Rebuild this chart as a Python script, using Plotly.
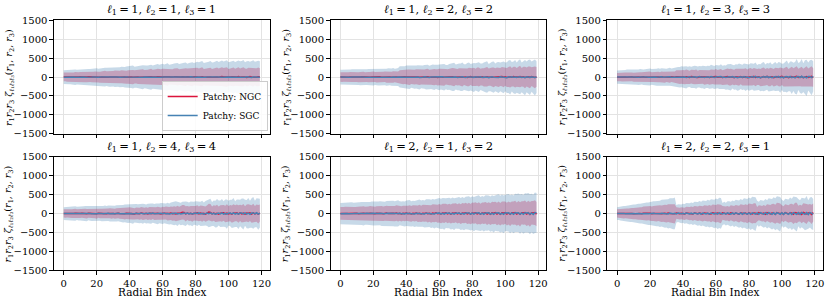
import plotly.graph_objects as go

# ---------------- data ----------------
bins = list(range(120))
xticks = [0, 20, 40, 60, 80, 100, 120]
yticks = [-1500, -1000, -500, 0, 500, 1000, 1500]
titles_l = [(1, 1, 1), (1, 2, 2), (1, 3, 3), (1, 4, 4), (2, 1, 2), (2, 2, 1)]

# SGC 1-sigma half-widths per panel
sgc_sig_1 = [180,182,185,188,192,196,200,205, 195,198,202,206,210,215,220, 210,214,218,223,228,234, 225,230,236,242,248, 240,246,252,258, 250,257,264, 258,266, 270,
             265,270,276,282,289,296,303, 280,287,294,302,310,318, 295,303,312,321,330, 310,320,330,340, 325,336,347, 340,352, 360,
             330,338,347,356,366,376, 345,355,366,377,388, 360,372,384,396, 375,388,400, 390,404, 415,
             370,382,395,408,420, 385,398,412,425, 400,415,430, 410,425, 440,
             390,405,420,435, 400,418,435, 415,432, 445,
             395,412,430, 405,425, 440, 400,420, 430, 420]
ngc_sig_1 = [115,116,118,120,122,125,127,130, 124,126,128,131,134,137,140, 133,136,139,142,145,149, 142,146,150,154,158, 150,155,160,164, 157,162,167, 163,168, 172,
             165,168,172,176,180,184,189, 175,179,184,189,194,199, 184,189,195,201,207, 193,199,206,213, 202,209,216, 211,219, 225,
             200,205,211,217,223,229, 208,214,221,228,235, 216,224,232,240, 224,233,242, 232,242, 250,
             215,222,230,238,246, 223,231,240,248, 230,240,250, 236,247, 258,
             220,229,238,247, 226,236,246, 233,244, 252,
             222,232,242, 229,240, 248, 225,236, 244, 235]

sgc_sig_2 = [195,197,199,201,203,205,207,209, 200,202,205,208,211,214,217, 205,208,212,216,220,224, 210,214,219,224,229, 215,220,226,232, 220,227,234, 225,233, 240,
             280,284,289,294,299,304,310, 290,295,301,307,313,320, 300,307,314,321,329, 310,318,327,336, 320,330,340, 330,342, 350,
             320,330,340,351,362,373, 330,342,354,366,378, 340,354,368,382, 350,366,382, 360,378, 395,
             350,366,382,398,414, 360,378,396,414, 370,390,410, 380,402, 420,
             380,405,430,455, 390,420,450, 400,435, 465,
             395,430,465, 410,450, 470, 400,440, 475, 420]
ngc_sig_2 = [125,126,127,128,129,130,131,132, 128,129,131,133,135,137,139, 131,133,135,137,140,143, 134,137,140,143,146, 137,141,145,149, 140,145,150, 143,149, 155,
             182,185,188,191,195,199,203, 188,191,195,199,203,208, 194,198,203,208,213, 200,205,211,217, 206,213,220, 212,220, 228,
             205,211,218,225,232,239, 212,219,227,235,243, 218,227,236,245, 224,234,244, 230,241, 252,
             222,231,240,250,260, 228,238,249,260, 234,246,258, 240,253, 266,
             238,252,266,280, 244,260,276, 250,268, 285,
             245,265,283, 252,272, 288, 248,270, 290, 260]

sgc_sig_3 = [175,177,180,183,186,190,194,198, 188,191,195,199,203,208,213, 200,204,208,213,218,224, 210,215,220,226,232, 218,224,231,238, 226,233,241, 232,241, 250,
             262,266,271,276,282,288,294, 270,275,281,287,294,301, 278,284,291,298,306, 286,294,302,311, 294,303,313, 302,313, 325,
             305,313,322,331,341,351, 315,324,334,345,356, 324,335,347,359, 333,346,360, 342,357, 372,
             330,343,357,371,385, 340,355,370,386, 350,367,384, 360,378, 400,
             350,375,400,425, 362,395,430, 375,420, 470,
             360,410,460, 380,440, 480, 370,430, 470, 400]
ngc_sig_3 = [110,111,113,115,117,119,121,123, 116,118,120,122,125,128,131, 122,124,127,130,133,137, 127,130,133,137,141, 131,135,139,143, 135,140,145, 139,145, 150,
             168,171,174,177,181,185,189, 173,176,180,184,188,193, 178,182,186,191,196, 183,188,193,199, 188,194,200, 193,200, 207,
             195,200,206,212,218,224, 201,207,213,220,227, 207,214,221,229, 213,221,229, 218,227, 236,
             210,218,226,234,243, 216,224,233,242, 222,231,241, 228,239, 250,
             225,237,249,261, 231,245,259, 238,254, 270,
             232,248,264, 240,258, 272, 235,253, 268, 245]

sgc_sig_4 = [170,172,174,177,180,183,186,190, 178,181,184,188,192,196,200, 186,189,193,197,201,206, 193,197,201,206,211, 199,204,209,214, 205,211,217, 210,217, 224,
             232,236,240,245,250,255,260, 240,244,249,254,260,266, 247,252,258,264,270, 254,260,267,274, 261,268,276, 267,276, 285,
             280,287,295,303,311,320, 288,296,305,314,323, 296,305,315,325, 303,314,325, 310,322, 335,
             310,325,340,356,372, 320,337,354,372, 330,350,370, 340,362, 385,
             330,350,372,395, 340,365,390, 350,380, 410,
             345,375,405, 355,390, 420, 350,385, 415, 380]
ngc_sig_4 = [108,109,110,112,114,116,118,120, 113,115,117,119,121,124,126, 118,120,122,125,128,131, 122,125,128,131,134, 126,129,133,136, 129,133,137, 132,137, 142,
             147,149,152,155,158,161,164, 151,154,157,160,164,168, 155,158,162,166,170, 159,163,167,172, 163,168,173, 167,173, 179,
             175,179,184,189,194,199, 180,185,190,196,202, 185,191,197,203, 190,197,204, 195,203, 211,
             193,201,209,217,225, 198,206,215,224, 203,212,222, 208,218, 230,
             205,215,226,237, 210,222,234, 215,228, 242,
             210,224,238, 216,232, 246, 213,229, 243, 225]

sgc_sig_5 = [280,282,284,286,289,292,295,298, 288,291,294,297,300,304,308, 298,301,305,309,313,317, 308,312,316,320,325, 318,322,327,332, 326,331,337, 334,340, 348,
             318,322,326,330,335,340,345, 334,338,343,348,353,358, 350,355,360,366,372, 366,372,378,384, 382,389,396, 398,406, 415,
             395,399,404,409,414,419, 410,415,420,426,432, 424,430,436,442, 438,445,452, 450,458, 466,
             450,455,460,466,472, 462,468,474,481, 474,481,488, 485,493, 500,
             480,487,494,502, 492,500,508, 502,512, 520,
             500,510,520, 512,524, 532, 510,522, 534, 525]
ngc_sig_5 = [168,169,171,172,174,176,178,180, 174,176,178,180,182,185,187, 180,182,185,187,190,193, 186,189,192,195,198, 192,195,198,202, 197,201,205, 202,206, 211,
             196,199,201,204,207,210,213, 206,209,212,215,219,222, 216,219,223,227,231, 226,230,234,238, 236,240,245, 245,250, 256,
             243,246,249,252,255,258, 252,255,258,262,266, 261,265,269,273, 270,274,278, 277,282, 287,
             276,279,283,287,291, 284,288,292,296, 291,296,301, 298,303, 308,
             295,300,305,310, 302,307,313, 308,314, 320,
             305,312,318, 312,320, 326, 312,320, 328, 322]

sgc_sig_6 = [170,176,182,188,195,202,209,216, 222,229,236,243,250,257,264, 270,277,284,291,298,305, 312,319,326,333,340, 347,354,361,368, 376,384,392, 400,408, 420,
             230,236,242,248,254,260,267, 273,280,286,293,299,306, 312,319,325,332,338, 345,351,358,364, 371,378,385, 392,400, 410,
             290,297,304,311,318,326, 333,341,348,356,363, 371,378,386,393, 401,408,416, 424,432, 445,
             320,329,338,347,356, 366,375,385,394, 404,413,423, 432,442, 460,
             345,356,367,378, 390,401,412, 424,436, 455,
             360,375,390, 405,420, 440, 380,400, 425, 410]
ngc_sig_6 = [110,114,118,122,126,130,134,138, 142,146,150,154,158,162,166, 170,174,178,182,186,190, 194,198,202,206,210, 214,218,222,226, 231,236,241, 245,250, 256,
             150,153,156,159,162,165,168, 171,174,177,180,184,187, 190,194,197,201,204, 208,211,215,219, 222,226,230, 234,238, 243,
             180,184,188,192,196,200, 204,208,212,216,220, 225,229,233,238, 242,247,251, 256,261, 267,
             192,197,202,208,213, 219,224,230,235, 241,247,253, 259,265, 272,
             205,211,218,225, 232,239,246, 253,261, 270,
             212,222,232, 242,252, 264, 220,236, 252, 240]

# mean curves per panel
ngc_mean_1 = [5,3,-2,4,6,1,-3,2,0,4, 7,3,-1,2,5,8,4,1,-2,3, 6,2,-4,1,5,9,3,-2,0,4, 7,12,5,-3,2,6,4,1,-5,3,
              8,2,-1,6,10,4,-2,1,7,3, -6,2,5,11,4,-3,0,8,3,-1, 5,9,2,-4,6,3,-2,8,12,5, -1,3,7,-3,2,10,4,-5,1,6,
              14,3,-2,5,8,-4,2,7,11,3, -6,0,9,4,-3,6,13,2,-1,5, -7,3,10,6,-2,4,12,-5,1,8, 3,-8,5,14,2,-3,6,-4,9,2]
sgc_mean_1 = [-2,1,3,-1,0,2,4,-3,1,2, -1,3,0,-2,4,1,-3,2,5,-1, 0,-4,2,3,-2,1,5,-1,-3,2, 4,-2,0,3,-5,1,2,-4,3,0,
              -2,5,1,-3,2,-1,4,0,-6,3, 1,-2,6,-3,0,2,-5,4,1,-1, 3,-4,0,5,-2,-7,2,1,4,-3, -1,6,-4,2,0,-5,3,7,-2,1,
              -6,4,0,-3,8,2,-5,1,-2,6, 3,-8,2,5,-1,-4,7,0,-6,3, 2,-5,8,-3,1,-7,4,2,-9,5, -2,6,-4,1,-8,3,5,-6,2,-3]
ngc_mean_2 = [3,-1,2,5,0,-3,4,1,-2,6, 2,-4,3,7,1,-2,5,0,-5,4, 8,2,-3,1,6,-1,3,9,-2,0, 4,-6,2,7,3,-4,1,5,-2,8,
              0,3,-5,6,2,-1,9,4,-3,1, 7,-2,5,10,-4,2,6,-1,3,-7, 4,11,-3,2,8,-5,1,6,12,-2, 3,-6,9,2,-4,7,1,-8,5,13,
              -1,4,-7,10,3,-2,6,-9,2,8, -3,11,5,-6,1,9,-4,3,14,-2, 6,-10,2,8,-5,12,1,-7,4,15, -3,7,-11,2,9,-6,13,0,-8,5]
sgc_mean_2 = [1,-2,0,3,-1,2,-3,1,4,-2, 0,2,-4,1,3,-1,-2,5,0,-3, 2,4,-1,-5,3,1,-2,6,-4,0, 3,-1,5,-3,-6,2,4,-2,1,-7,
              5,0,-3,7,-1,-5,3,2,-8,4, -2,6,-4,1,-9,3,5,-6,2,-1, -7,4,8,-3,0,-10,5,2,-6,7, 1,-8,3,-4,9,-2,-11,4,6,-5,
              2,-12,7,-3,1,8,-9,4,-6,3, -13,5,9,-2,-7,4,-10,6,1,-8, 3,-14,7,-4,10,-6,2,-12,5,8, -9,1,-15,6,3,-7,11,-4,-10,2]
ngc_mean_3 = [-3,2,4,-1,1,5,-2,3,0,6, -4,2,7,1,-3,5,8,-2,0,4, 9,-1,3,-5,6,2,-3,10,1,-4, 5,3,-6,8,0,-2,11,4,-7,2,
              6,-3,9,1,-8,12,3,-1,5,-9, 7,2,13,-4,0,6,-10,3,8,-2, 14,-5,1,9,-11,4,2,15,-6,0, 7,-12,10,3,-3,16,-7,1,8,-13,
              4,11,-2,17,-8,2,9,-14,5,12, -4,18,-9,3,10,-15,6,13,-5,1, 19,-10,4,11,-16,7,14,-6,2,20, -11,5,12,-17,8,15,-7,3,21,-12]
sgc_mean_3 = [2,0,-1,3,1,-2,4,0,-3,2, 5,-1,1,-4,3,6,-2,0,4,-5, 1,7,-3,2,-6,5,0,8,-4,1, -7,3,9,-2,0,-8,6,2,-5,10,
              -1,4,-9,3,11,-6,1,7,-10,2, 12,-3,5,-11,0,8,-7,13,2,-12, 4,9,-4,14,-8,1,-13,6,10,-5, 15,-9,3,-14,7,11,-6,16,-10,2,
              -15,8,12,-7,17,-11,4,-16,9,13, -8,18,-12,5,-17,10,14,-9,19,-13, 6,-18,11,15,-10,20,-14,7,-19,12, 16,-11,21,-15,8,-20,13,17,-12,22]
ngc_mean_4 = [2,-1,3,0,4,-2,1,5,-3,2, 0,6,-1,3,-4,7,2,-2,5,1, -5,8,3,0,-3,6,-6,4,9,-1, 2,-7,5,10,1,-4,3,-8,6,2,
              11,-2,4,-9,7,3,-5,12,0,-3, 8,-10,5,1,13,-6,2,9,-4,-11, 6,3,14,-7,0,10,-5,4,-12,7, 2,15,35,30,-8,11,-6,5,-13,8,
              3,16,-9,12,-7,6,-14,9,40,28, -10,13,-8,7,-15,10,5,17,-11,14, -9,8,-16,11,6,18,-12,15,-10,9, -17,12,7,19,-13,16,-11,10,-18,13]
sgc_mean_4 = [-1,2,0,-3,1,3,-2,0,4,-1, 2,-4,1,3,-2,5,0,-5,2,4, -3,1,6,-2,-6,3,0,7,-4,2, 1,-7,4,8,-3,0,-8,5,2,-4,
              9,1,-9,3,6,-5,0,10,-6,2, -10,4,7,-2,11,-7,1,-11,5,8, -3,12,-8,2,-12,6,9,-4,13,-9, 3,-13,7,10,-5,14,-10,4,-14,8,
              11,-6,15,-11,5,-15,9,12,-7,16, -12,6,-16,10,13,-8,17,-13,7,-17, 11,14,-9,18,-14,8,-18,12,15,-10, 19,-15,9,-19,13,16,-11,20,-16,10]
ngc_mean_5 = [4,-2,1,5,-1,3,6,-3,2,0, 7,-4,3,1,8,-2,-5,4,9,0, 2,-6,5,10,-1,3,-7,6,11,-2, 4,-8,7,0,12,-3,5,-9,8,1,
              13,-4,6,-10,9,2,14,-5,7,-11, 10,3,15,-6,8,-12,11,4,16,-7, 9,-13,12,5,17,-8,10,-14,13,6, 18,-9,11,-15,14,7,19,-10,12,-16,
              15,8,20,-11,13,-17,16,9,21,-12, 14,-18,17,10,22,-13,15,-19,18,11, 23,-14,16,-20,19,12,24,-15,17,-21, 20,13,25,-16,18,-22,21,14,26,-17]
sgc_mean_5 = [-3,1,2,-1,0,-4,3,2,-2,1, -5,4,0,3,-6,2,5,-3,-1,6, 1,-7,4,0,7,-4,2,-8,5,3, 8,-5,1,-9,6,4,9,-6,2,-10,
              7,5,10,-7,3,-11,8,6,11,-8, 4,-12,9,7,12,-9,5,-13,10,8, 13,-10,6,-14,11,9,14,-11,7,-15, 12,10,15,-12,8,-16,13,11,16,-13,
              9,-17,14,12,17,-14,10,-18,15,13, 18,-15,11,-19,16,14,19,-16,12,-20, 17,15,20,-17,13,-21,18,16,21,-18, 14,-22,19,17,22,-19,15,-23,20,18]
ngc_mean_6 = [2,5,-1,3,-4,6,1,-2,7,0, -3,4,8,-1,2,-5,9,3,-2,6, 10,-6,1,4,-3,11,2,-7,5,8, -4,12,3,-1,6,-8,13,4,-5,9,
              1,-9,14,5,-2,7,-10,15,6,-6, 10,2,-11,16,7,-3,8,-12,17,3, -7,11,4,-13,18,8,-4,9,-14,19, 5,-8,12,6,-15,20,9,-5,10,-16,
              21,7,-9,13,8,-17,22,10,-6,11, -18,23,9,-10,14,10,-19,24,11,-7, 12,-20,25,11,-11,15,12,-21,26,13, -8,13,-22,27,14,-12,16,14,-23,28]
sgc_mean_6 = [-1,3,0,-2,4,-3,1,5,-4,2, 0,-5,6,1,-3,3,-6,7,2,-4, 4,-7,8,0,-5,5,-8,9,3,-6, 6,-9,10,1,-7,7,-10,11,4,-8,
              8,-11,12,2,-9,9,-12,13,5,-10, 10,-13,14,3,-11,11,-14,15,6,-12, 12,-15,16,4,-13,13,-16,17,7,-14, 14,-17,18,5,-15,15,-18,19,8,-16,
              16,-19,20,6,-17,17,-20,21,9,-18, 18,-21,22,7,-19,19,-22,23,10,-20, 20,-23,24,8,-21,21,-24,25,11,-22, 22,-25,26,9,-23,23,-26,27,12,-24]

sgc_sig = [sgc_sig_1, sgc_sig_2, sgc_sig_3, sgc_sig_4, sgc_sig_5, sgc_sig_6]
ngc_sig = [ngc_sig_1, ngc_sig_2, ngc_sig_3, ngc_sig_4, ngc_sig_5, ngc_sig_6]
sgc_mean = [sgc_mean_1, sgc_mean_2, sgc_mean_3, sgc_mean_4, sgc_mean_5, sgc_mean_6]
ngc_mean = [ngc_mean_1, ngc_mean_2, ngc_mean_3, ngc_mean_4, ngc_mean_5, ngc_mean_6]
for arr in sgc_sig + ngc_sig + sgc_mean + ngc_mean:
    assert len(arr) == 120, len(arr)

# ---------------- style ----------------
W, H = 830, 306
FONT = "DejaVu Serif"
NGC_LINE = "#DC143C"
SGC_LINE = "#4682B4"
NGC_FILL = "rgba(185,45,95,0.32)"
SGC_FILL = "rgba(70,130,180,0.30)"
TS = "\u2009"  # thin space

col_px = [(54, 270), (331, 547), (608, 824)]
row_px = [(15, 133), (157, 275)]

def px_x(p):
    return p / W

def px_y(p):
    return 1 - p / H

fig = go.Figure()
annotations = []

for i in range(6):
    r, c = divmod(i, 3)
    n = i + 1
    xa = "x" if n == 1 else f"x{n}"
    ya = "y" if n == 1 else f"y{n}"
    xs = bins + bins[::-1]
    for mean, sig, fillc in ((sgc_mean[i], sgc_sig[i], SGC_FILL), (ngc_mean[i], ngc_sig[i], NGC_FILL)):
        up = [m + s for m, s in zip(mean, sig)]
        lo = [m - s for m, s in zip(mean, sig)]
        fig.add_trace(go.Scatter(x=xs, y=up + lo[::-1], fill="toself", fillcolor=fillc,
                                 line=dict(width=0), mode="lines", hoverinfo="skip",
                                 showlegend=False, xaxis=xa, yaxis=ya))
    fig.add_trace(go.Scatter(x=bins, y=ngc_mean[i], mode="lines", line=dict(color=NGC_LINE, width=1.5),
                             name="Patchy: NGC", showlegend=(i == 0), xaxis=xa, yaxis=ya))
    fig.add_trace(go.Scatter(x=bins, y=sgc_mean[i], mode="lines", line=dict(color=SGC_LINE, width=1.5),
                             name="Patchy: SGC", showlegend=(i == 0), xaxis=xa, yaxis=ya))

    x0, x1 = col_px[c]
    y0, y1 = row_px[r]
    common = dict(showline=True, mirror=True, linecolor="#000", linewidth=1,
                  ticks="outside", ticklen=3.5, tickwidth=0.8, tickcolor="#000",
                  showgrid=True, gridcolor="#e3e3e3", gridwidth=0.8, zeroline=False,
                  tickfont=dict(family=FONT, size=10, color="#000"))
    fig.layout[f"xaxis{'' if n == 1 else n}"] = dict(
        domain=[px_x(x0), px_x(x1)], anchor=ya, range=[-5.95, 124.95],
        tickmode="array", tickvals=xticks, showticklabels=(r == 1), **common)
    fig.layout[f"yaxis{'' if n == 1 else n}"] = dict(
        domain=[px_y(y1), px_y(y0)], anchor=xa, range=[-1500, 1500],
        tickmode="array", tickvals=yticks, **common)

    l1, l2, l3 = titles_l[i]
    eq = f"{TS}={TS}"
    annotations.append(dict(
        text=f"<i>ℓ</i><sub>1</sub>{eq}{l1}, <i>ℓ</i><sub>2</sub>{eq}{l2}, <i>ℓ</i><sub>3</sub>{eq}{l3}",
        x=px_x((x0 + x1) / 2), y=px_y(y0 - 1), xref="paper", yref="paper",
        xanchor="center", yanchor="bottom", showarrow=False,
        font=dict(family=FONT, size=11.5, color="#000")))
    annotations.append(dict(
        text="<i>r</i><sub>1</sub><i>r</i><sub>2</sub><i>r</i><sub>3</sub> <i>ζ</i><sub><i>ℓ</i>₁<i>ℓ</i>₂<i>ℓ</i>₃</sub>(<i>r</i><sub>1</sub>, <i>r</i><sub>2</sub>, <i>r</i><sub>3</sub>)",
        x=px_x(x0 - 45), y=px_y((y0 + y1) / 2), xref="paper", yref="paper",
        xanchor="center", yanchor="middle", textangle=-90, showarrow=False,
        font=dict(family=FONT, size=9.5, color="#000")))
    if r == 1:
        annotations.append(dict(
            text="Radial Bin Index", x=px_x((x0 + x1) / 2), y=px_y(306),
            xref="paper", yref="paper", xanchor="center", yanchor="bottom",
            showarrow=False, font=dict(family=FONT, size=10.5, color="#000")))

fig.update_layout(
    width=W, height=H, margin=dict(l=0, r=0, t=0, b=0),
    paper_bgcolor="white", plot_bgcolor="white",
    font=dict(family=FONT, color="#000"),
    annotations=annotations,
    showlegend=True,
    legend=dict(x=px_x(268), y=px_y(130), xanchor="right", yanchor="bottom",
                bgcolor="rgba(255,255,255,0.85)", bordercolor="#cccccc", borderwidth=1,
                font=dict(family=FONT, size=9, color="#000"), itemwidth=30,
                tracegroupgap=0),
)

fig.write_html("out.html", config={"displayModeBar": False},
               post_script="document.body.style.margin='0px';")
